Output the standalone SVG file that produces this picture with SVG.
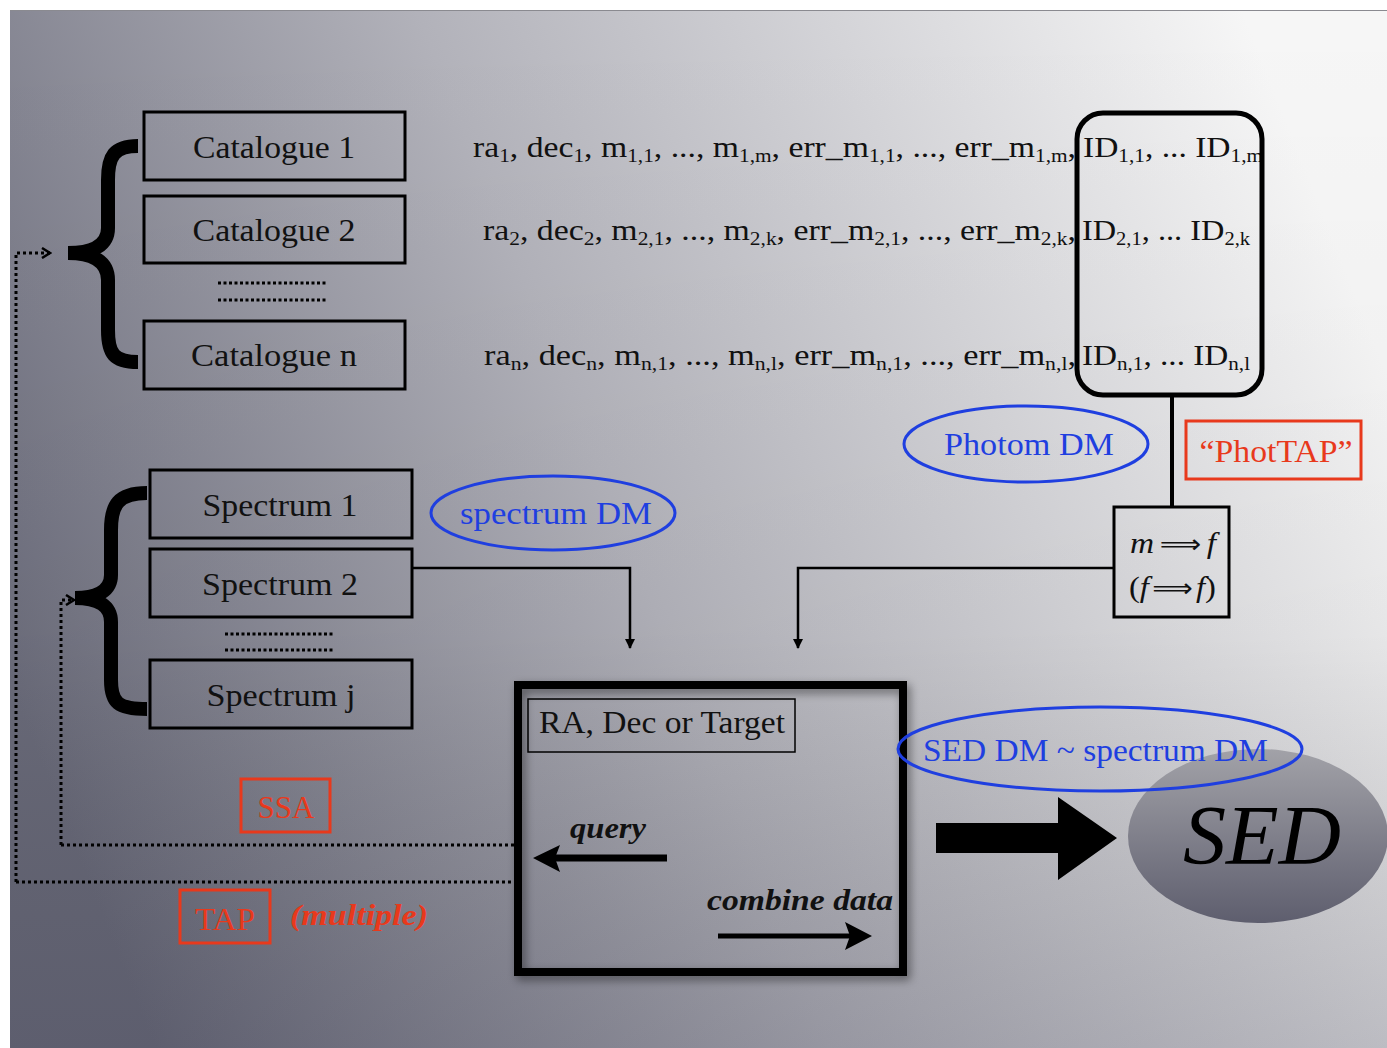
<svg xmlns="http://www.w3.org/2000/svg" width="1387" height="1048" viewBox="0 0 1387 1048">
<defs>
<linearGradient id="bg" x1="0" y1="0.65" x2="1" y2="0.35">
<stop offset="0" stop-color="#6c6d7c"/>
<stop offset="0.45" stop-color="#b2b2ba"/>
<stop offset="1" stop-color="#f6f6f6"/>
</linearGradient>
<linearGradient id="shade" x1="0" y1="0" x2="0" y2="1">
<stop offset="0" stop-color="#000" stop-opacity="0"/>
<stop offset="0.6" stop-color="#000" stop-opacity="0.03"/>
<stop offset="1" stop-color="#1a1a30" stop-opacity="0.18"/>
</linearGradient>
<linearGradient id="sedg" x1="0" y1="0" x2="0" y2="1">
<stop offset="0" stop-color="#a2a2a8"/>
<stop offset="1" stop-color="#5e5e6e"/>
</linearGradient>
<filter id="sh" x="-10%" y="-10%" width="125%" height="125%">
<feDropShadow dx="3" dy="4" stdDeviation="5" flood-color="#000" flood-opacity="0.45"/>
</filter>
<marker id="ah" markerWidth="10" markerHeight="10" refX="9" refY="5" orient="auto" markerUnits="userSpaceOnUse">
<path d="M0,0 L10,5 L0,10 Z" fill="#000"/>
</marker>
<marker id="chev" markerWidth="12" markerHeight="12" refX="10" refY="6" orient="auto" markerUnits="userSpaceOnUse">
<path d="M2,1 L10,6 L2,11" fill="none" stroke="#000" stroke-width="2.5"/>
</marker>
</defs>
<style>
.box{fill:none;stroke:#000;stroke-width:3}
.t{font-family:"Liberation Serif",serif;font-size:31px;fill:#111}
.f{font-family:"Liberation Serif",serif;font-size:30px;fill:#111}
.s{font-size:19px}
.blue{font-family:"Liberation Serif",serif;font-size:31px;fill:#1f3fe0}
.red{font-family:"Liberation Serif",serif;font-size:31px;fill:#e8391c}
.ell{fill:none;stroke:#1f3fe0;stroke-width:3}
.rbox{fill:none;stroke:#e8391c;stroke-width:3}
.dot{fill:none;stroke:#000;stroke-width:3;stroke-dasharray:3 3}
.dots{fill:none;stroke:#000;stroke-width:3;stroke-dasharray:3 2.5}
.brace{fill:none;stroke:#000;stroke-width:14;stroke-linejoin:miter;stroke-miterlimit:10}
.conn{fill:none;stroke:#000;stroke-width:2.5}
.it{font-family:"Liberation Serif",serif;font-style:italic;font-weight:bold;font-size:30px;fill:#111}
.math{font-family:"Liberation Serif",serif;font-size:30px;fill:#111}
.arr{font-family:"DejaVu Sans",sans-serif;font-size:26px}
</style>
<rect x="0" y="0" width="1387" height="1048" fill="#fff"/>
<rect x="10" y="10" width="1377" height="1038" fill="url(#bg)"/>
<rect x="10" y="10" width="1377" height="1038" fill="url(#shade)"/>
<line x1="10" y1="10.5" x2="1387" y2="10.5" stroke="#8a8a90" stroke-width="1"/>

<g id="connectors">
<path class="dot" d="M16,882 L16,253 L50,253" marker-end="url(#chev)"/>
<path class="dot" d="M16,882 L515,882"/>
<path class="dot" d="M61,845 L61,600 L74,600" marker-end="url(#chev)"/>
<path class="dot" d="M61,845 L515,845"/>
<path class="conn" d="M412,568 L630,568 L630,648" marker-end="url(#ah)"/>
<path class="conn" d="M1114,568 L798,568 L798,648" marker-end="url(#ah)"/>
<line x1="1172" y1="395" x2="1172" y2="508" stroke="#000" stroke-width="4"/>
</g>

<g id="catalogue-brace"><path class="brace" d="M138,146 C114,146 108,156 108,180 L108,228 C108,245 94,253 68,253 C94,253 108,262 108,280 L108,330 C108,354 114,362 138,362"/></g>
<g id="catalogue-1"><rect class="box" x="144" y="112" width="261" height="68"/><text class="t" x="274" y="158" text-anchor="middle" textLength="162" lengthAdjust="spacingAndGlyphs">Catalogue 1</text></g>
<g id="catalogue-2"><rect class="box" x="144" y="196" width="261" height="67"/><text class="t" x="274" y="241" text-anchor="middle" textLength="163" lengthAdjust="spacingAndGlyphs">Catalogue 2</text></g>
<g id="catalogue-dots"><line class="dots" x1="218" y1="283" x2="328" y2="283"/><line class="dots" x1="218" y1="300" x2="328" y2="300"/></g>
<g id="catalogue-n"><rect class="box" x="144" y="321" width="261" height="68"/><text class="t" x="274" y="366" text-anchor="middle" textLength="166" lengthAdjust="spacingAndGlyphs">Catalogue n</text></g>

<g id="row-1">
<text class="f" x="473" y="157" textLength="603" lengthAdjust="spacingAndGlyphs">ra<tspan class="s" dy="5">1</tspan><tspan dy="-5">, dec</tspan><tspan class="s" dy="5">1</tspan><tspan dy="-5">, m</tspan><tspan class="s" dy="5">1,1</tspan><tspan dy="-5">, ..., m</tspan><tspan class="s" dy="5">1,m</tspan><tspan dy="-5">, err_m</tspan><tspan class="s" dy="5">1,1</tspan><tspan dy="-5">, ..., err_m</tspan><tspan class="s" dy="5">1,m</tspan><tspan dy="-5">,</tspan></text>
<text class="f" x="1083" y="157" textLength="180" lengthAdjust="spacingAndGlyphs">ID<tspan class="s" dy="5">1,1</tspan><tspan dy="-5">, ... ID</tspan><tspan class="s" dy="5">1,m</tspan></text>
</g>
<g id="row-2">
<text class="f" x="483" y="240" textLength="593" lengthAdjust="spacingAndGlyphs">ra<tspan class="s" dy="5">2</tspan><tspan dy="-5">, dec</tspan><tspan class="s" dy="5">2</tspan><tspan dy="-5">, m</tspan><tspan class="s" dy="5">2,1</tspan><tspan dy="-5">, ..., m</tspan><tspan class="s" dy="5">2,k</tspan><tspan dy="-5">, err_m</tspan><tspan class="s" dy="5">2,1</tspan><tspan dy="-5">, ..., err_m</tspan><tspan class="s" dy="5">2,k</tspan><tspan dy="-5">,</tspan></text>
<text class="f" x="1082" y="240" textLength="168" lengthAdjust="spacingAndGlyphs">ID<tspan class="s" dy="5">2,1</tspan><tspan dy="-5">, ... ID</tspan><tspan class="s" dy="5">2,k</tspan></text>
</g>
<g id="row-n">
<text class="f" x="484" y="365" textLength="592" lengthAdjust="spacingAndGlyphs">ra<tspan class="s" dy="5">n</tspan><tspan dy="-5">, dec</tspan><tspan class="s" dy="5">n</tspan><tspan dy="-5">, m</tspan><tspan class="s" dy="5">n,1</tspan><tspan dy="-5">, ..., m</tspan><tspan class="s" dy="5">n,l</tspan><tspan dy="-5">, err_m</tspan><tspan class="s" dy="5">n,1</tspan><tspan dy="-5">, ..., err_m</tspan><tspan class="s" dy="5">n,l</tspan><tspan dy="-5">,</tspan></text>
<text class="f" x="1082" y="365" textLength="168" lengthAdjust="spacingAndGlyphs">ID<tspan class="s" dy="5">n,1</tspan><tspan dy="-5">, ... ID</tspan><tspan class="s" dy="5">n,l</tspan></text>
</g>
<g id="id-box"><rect x="1077" y="113" width="185" height="282" rx="26" fill="none" stroke="#000" stroke-width="5"/></g>

<g id="photom-dm"><ellipse class="ell" cx="1026" cy="444" rx="122" ry="38"/><text class="blue" x="1029" y="455" text-anchor="middle" textLength="170" lengthAdjust="spacingAndGlyphs">Photom DM</text></g>
<g id="phottap"><rect class="rbox" x="1186" y="421" width="175" height="58"/><text class="red" x="1276" y="462" text-anchor="middle" textLength="153" lengthAdjust="spacingAndGlyphs">“PhotTAP”</text></g>
<g id="conversion"><rect class="box" x="1114" y="507" width="115" height="110"/>
<text class="math" x="1130" y="553" textLength="86" lengthAdjust="spacingAndGlyphs"><tspan font-style="italic">m</tspan><tspan class="arr" dx="5">⟹</tspan><tspan dx="5" font-style="italic">f</tspan></text>
<text class="math" x="1129" y="597" textLength="87" lengthAdjust="spacingAndGlyphs">(<tspan font-style="italic">f</tspan><tspan class="arr" dx="3">⟹</tspan><tspan dx="3" font-style="italic">f</tspan>)</text>
</g>

<g id="spectrum-brace"><path class="brace" d="M147,493 C118,493 111,505 111,530 L111,575 C111,590 99,598 75,598 C99,598 111,606 111,622 L111,680 C111,703 118,709 147,709"/></g>
<g id="spectrum-1"><rect class="box" x="150" y="470" width="262" height="68"/><text class="t" x="280" y="516" text-anchor="middle" textLength="155" lengthAdjust="spacingAndGlyphs">Spectrum 1</text></g>
<g id="spectrum-2"><rect class="box" x="150" y="549" width="262" height="68"/><text class="t" x="280" y="595" text-anchor="middle" textLength="156" lengthAdjust="spacingAndGlyphs">Spectrum 2</text></g>
<g id="spectrum-dots"><line class="dots" x1="225" y1="634" x2="335" y2="634"/><line class="dots" x1="225" y1="650" x2="335" y2="650"/></g>
<g id="spectrum-j"><rect class="box" x="150" y="660" width="262" height="68"/><text class="t" x="281" y="706" text-anchor="middle" textLength="149" lengthAdjust="spacingAndGlyphs">Spectrum j</text></g>
<g id="spectrum-dm"><ellipse class="ell" cx="553" cy="513" rx="122" ry="37"/><text class="blue" x="556" y="524" text-anchor="middle" textLength="192" lengthAdjust="spacingAndGlyphs">spectrum DM</text></g>

<g id="ssa"><rect class="rbox" x="241" y="779" width="89" height="53"/><text class="red" x="286" y="818" text-anchor="middle" textLength="57" lengthAdjust="spacingAndGlyphs">SSA</text></g>
<g id="tap"><rect class="rbox" x="180" y="890" width="90" height="53"/><text class="red" x="225" y="930" text-anchor="middle" textLength="60" lengthAdjust="spacingAndGlyphs">TAP</text>
<text x="290" y="925" style="font-family:'Liberation Serif',serif;font-style:italic;font-weight:bold;font-size:30px;fill:#e8391c" textLength="138" lengthAdjust="spacingAndGlyphs">(multiple)</text></g>

<g id="query-box">
<rect x="518" y="685" width="385" height="287" fill="none" stroke="#000" stroke-width="8" filter="url(#sh)"/>
<rect x="528" y="699" width="267" height="53" fill="none" stroke="#000" stroke-width="1.5"/>
<text class="t" x="539" y="733" textLength="246" lengthAdjust="spacingAndGlyphs">RA, Dec or Target</text>
<text class="it" x="570" y="838" textLength="76" lengthAdjust="spacingAndGlyphs">query</text>
<line x1="667" y1="858" x2="552" y2="858" stroke="#000" stroke-width="7"/>
<path d="M533,858 L560,845 L555,858 L560,872 Z" fill="#000"/>
<text class="it" x="707" y="910" textLength="186" lengthAdjust="spacingAndGlyphs">combine data</text>
<line x1="718" y1="936" x2="850" y2="936" stroke="#000" stroke-width="5"/>
<path d="M872,936 L845,922 L850,936 L845,950 Z" fill="#000"/>
</g>

<g id="big-arrow"><path d="M936,823 L1058,823 L1058,797 L1117,838 L1058,880 L1058,853 L936,853 Z" fill="#000"/></g>

<g id="sed"><ellipse cx="1258" cy="836" rx="130" ry="87" fill="url(#sedg)"/>
<text x="1262" y="864" text-anchor="middle" style="font-family:'Liberation Serif',serif;font-style:italic;font-size:84px;fill:#000" textLength="158" lengthAdjust="spacingAndGlyphs">SED</text></g>
<g id="sed-dm"><ellipse class="ell" cx="1100" cy="749" rx="202" ry="42"/><text class="blue" x="923" y="761" textLength="345" lengthAdjust="spacingAndGlyphs">SED DM ~ spectrum DM</text></g>
</svg>
